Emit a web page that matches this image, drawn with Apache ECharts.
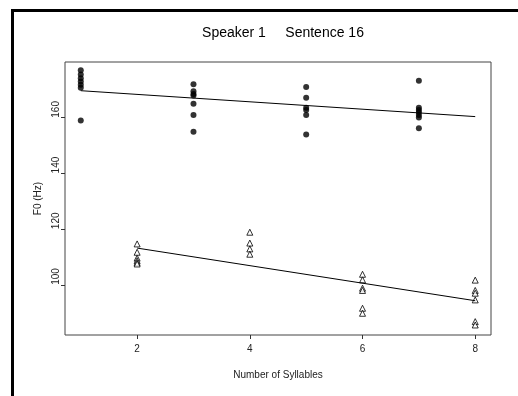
<!DOCTYPE html>
<html>
<head>
<meta charset="utf-8">
<script src="https://cdn.jsdelivr.net/npm/echarts@6/dist/echarts.min.js"></script>
<style>
  html, body { margin: 0; padding: 0; background: #fff; }
  #chart { width: 518px; height: 396px; }
</style>
</head>
<body>
<div id="chart"></div>
<script>
// filled circles (upper group)
const circleX = [1, 1, 1, 1, 1, 1, 1,
  3, 3, 3, 3, 3, 3, 3,
  5, 5, 5, 5, 5, 5,
  7, 7, 7, 7, 7, 7, 7];
const circleY = [177, 175.5, 174.2, 173, 171.8, 170.8, 159,
  172, 169.5, 168.5, 168, 165, 161, 155,
  171, 167.2, 163.6, 162.8, 161, 154,
  173.3, 163.6, 162.8, 162, 161, 160.1, 156.2];

// open triangles (lower group)
const triX = [2, 2, 2, 2, 2, 2,
  4, 4, 4, 4,
  6, 6, 6, 6, 6, 6,
  8, 8, 8, 8, 8, 8];
const triY = [114.7, 111.7, 109.6, 108.7, 108, 107.5,
  118.9, 115, 112.9, 111,
  103.8, 101.8, 98.8, 98, 91.6, 89.8,
  101.7, 98, 97, 94.6, 86.8, 85.6];

// fitted lines (end points)
const upperFitX = [1, 8];
const upperFitY = [169.7, 160.4];
const lowerFitX = [2, 8];
const lowerFitY = [113.2, 94.3];

const xTicks = [2, 4, 6, 8];
const yTicks = [100, 120, 140, 160];

const zip = (xs, ys) => xs.map((x, i) => [x, ys[i]]);

const font = 'Liberation Sans, Arial, sans-serif';

const chart = echarts.init(document.getElementById('chart'));
chart.setOption({
  animation: false,
  title: {
    text: 'Speaker 1     Sentence 16',
    left: 278,
    textAlign: 'center',
    top: 21,
    textStyle: { fontFamily: font, fontSize: 14, fontWeight: 'normal', color: '#000' }
  },
  graphic: [{
    type: 'polyline',
    shape: { points: [[12.5, 396], [12.5, 10.5], [518, 10.5]] },
    style: { stroke: '#000', lineWidth: 3, fill: null }
  }],
  grid: {
    left: 65, right: 27, top: 62, bottom: 61,
    show: true, borderColor: '#444', borderWidth: 1
  },
  xAxis: {
    type: 'value',
    min: 0.72, max: 8.28,
    name: 'Number of Syllables',
    nameLocation: 'middle',
    nameGap: 35,
    nameTextStyle: { fontFamily: font, fontSize: 10, color: '#222' },
    axisLine: { show: false },
    splitLine: { show: false },
    axisTick: { show: true, length: 4, customValues: xTicks, lineStyle: { color: '#333' } },
    axisLabel: { customValues: xTicks, margin: 9, fontFamily: font, fontSize: 10, color: '#222' }
  },
  yAxis: {
    type: 'value',
    min: 82, max: 180,
    name: 'F0 (Hz)',
    nameLocation: 'middle',
    nameGap: 22,
    nameTextStyle: { fontFamily: font, fontSize: 10, color: '#222' },
    axisLine: { show: false },
    splitLine: { show: false },
    axisTick: { show: true, length: 4, customValues: yTicks, lineStyle: { color: '#333' } },
    axisLabel: { customValues: yTicks, rotate: 90, align: 'left', margin: 4, fontFamily: font, fontSize: 10, color: '#222' }
  },
  series: [
    {
      type: 'scatter',
      data: zip(circleX, circleY),
      symbol: 'circle',
      symbolSize: 6,
      itemStyle: { color: '#000' }
    },
    {
      type: 'scatter',
      data: zip(triX, triY),
      symbol: 'triangle',
      symbolSize: 6,
      itemStyle: { color: '#fff', borderColor: '#000', borderWidth: 1 }
    },
    {
      type: 'line',
      data: zip(upperFitX, upperFitY),
      symbol: 'none',
      lineStyle: { color: '#000', width: 1 }
    },
    {
      type: 'line',
      data: zip(lowerFitX, lowerFitY),
      symbol: 'none',
      lineStyle: { color: '#000', width: 1 }
    }
  ]
});
</script>
</body>
</html>
